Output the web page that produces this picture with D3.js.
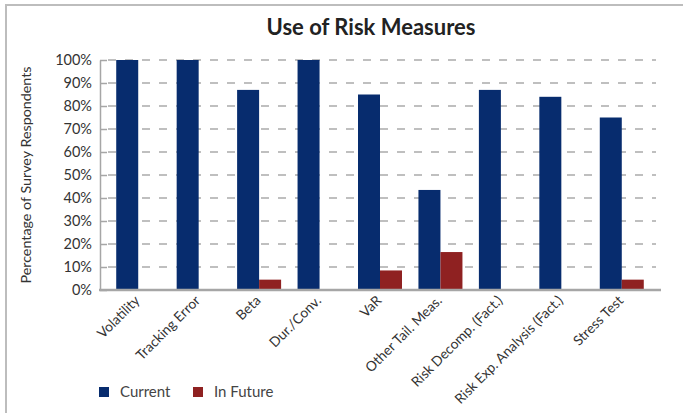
<!DOCTYPE html>
<html>
<head>
<meta charset="utf-8">
<script src="https://cdn.jsdelivr.net/npm/d3@7"></script>
<style>
  html, body { margin: 0; padding: 0; background: #fff; }
  svg { display: block; font-family: Lato, "Noto Sans", sans-serif; }
</style>
</head>
<body>
<svg id="chart" width="683" height="413"></svg>
<script>
// Risk measures surveyed and share of respondents (%)
const categories = ["Volatility", "Tracking Error", "Beta", "Dur./Conv.", "VaR",
  "Other Tail. Meas.", "Risk Decomp. (Fact.)", "Risk Exp. Analysis (Fact.)", "Stress Test"];
const currentValues = [100, 100, 87, 100, 85, 43.5, 87, 84, 75];
const futureValues  = [0, 0, 4.5, 0, 8.5, 16.5, 0, 0, 4.5];
const seriesNames = ["Current", "In Future"];
const yTicks = [0, 10, 20, 30, 40, 50, 60, 70, 80, 90, 100];

const colors = { "Current": "#072c6e", "In Future": "#8f2121" };

const svg = d3.select("#chart");

// Outer frame (top and left edges)
svg.append("line").attr("x1", 6).attr("x2", 683).attr("y1", 5).attr("y2", 5)
  .attr("stroke", "#bdbdbd").attr("stroke-width", 2);
svg.append("line").attr("x1", 6).attr("x2", 6).attr("y1", 4).attr("y2", 413)
  .attr("stroke", "#bdbdbd").attr("stroke-width", 2);

// Title
svg.append("text").attr("x", 371).attr("y", 35).attr("text-anchor", "middle")
  .attr("font-size", 22).attr("font-weight", 700).attr("fill", "#222")
  .text("Use of Risk Measures");

const plotLeft = 100, plotRight = 661, plotTop = 60, plotBottom = 290;

const y = d3.scaleLinear().domain([0, 100]).range([plotBottom, plotTop]);
const x0 = d3.scaleBand().domain(categories).range([108, 652]).paddingInner(0).paddingOuter(0);
const groupW = 44;
const x1 = d3.scaleBand().domain(seriesNames).range([0, groupW]);

// Dashed gridlines
svg.append("g").selectAll("line").data(yTicks.filter(d => d > 0)).join("line")
  .attr("x1", plotLeft + 8).attr("x2", 656)
  .attr("y1", d => y(d)).attr("y2", d => y(d))
  .attr("stroke", "#aaaaaa").attr("stroke-width", 1.6)
  .attr("stroke-dasharray", "8,9");

// Y axis
const yAxis = svg.append("g").attr("transform", `translate(${plotLeft},0)`)
  .call(d3.axisLeft(y).tickValues(yTicks).tickFormat(d => d + "%").tickSizeInner(-7).tickSizeOuter(0).tickPadding(8));
yAxis.select(".domain").attr("stroke", "#a6a6a6").attr("stroke-width", 1.5);
yAxis.selectAll(".tick line").attr("stroke", "#a6a6a6").attr("stroke-width", 1.5);
yAxis.selectAll(".tick text").attr("x", -8).attr("font-size", 14.5).attr("fill", "#333")
  .attr("font-family", "Lato, 'Noto Sans', sans-serif");

// Bars
const groups = svg.append("g").selectAll("g").data(categories).join("g")
  .attr("transform", d => `translate(${x0(d) + (x0.bandwidth() - groupW) / 2},0)`);

groups.selectAll("rect")
  .data((d, i) => [
    { key: "Current", value: currentValues[i] },
    { key: "In Future", value: futureValues[i] }
  ].filter(v => v.value > 0))
  .join("rect")
  .attr("x", d => x1(d.key))
  .attr("width", x1.bandwidth())
  .attr("y", d => y(d.value))
  .attr("height", d => y(0) - y(d.value))
  .attr("fill", d => colors[d.key]);

// X axis baseline
svg.append("line").attr("x1", plotLeft - 1).attr("x2", plotRight)
  .attr("y1", plotBottom).attr("y2", plotBottom)
  .attr("stroke", "#a6a6a6").attr("stroke-width", 2.5);

// Category labels, rotated
svg.append("g").selectAll("text").data(categories).join("text")
  .attr("transform", d => `translate(${x0(d) + x0.bandwidth() / 2 - 1},${plotBottom + 8}) rotate(-45)`)
  .attr("text-anchor", "end")
  .attr("dy", "0.35em")
  .attr("font-size", 13.8).attr("fill", "#333")
  .text(d => d);

// Y axis title
svg.append("text")
  .attr("transform", `translate(31,${(plotTop + plotBottom) / 2}) rotate(-90)`)
  .attr("text-anchor", "middle")
  .attr("font-size", 14.3).attr("fill", "#333")
  .text("Percentage of Survey Respondents");

// Legend
const legend = svg.append("g").selectAll("g").data(seriesNames).join("g")
  .attr("transform", (d, i) => `translate(${99 + i * 94},387)`);
legend.append("rect").attr("width", 10).attr("height", 10).attr("fill", d => colors[d]);
legend.append("text").attr("x", 21).attr("y", 5).attr("dy", "0.35em")
  .attr("font-size", 15).attr("fill", "#444").text(d => d);
</script>
</body>
</html>
